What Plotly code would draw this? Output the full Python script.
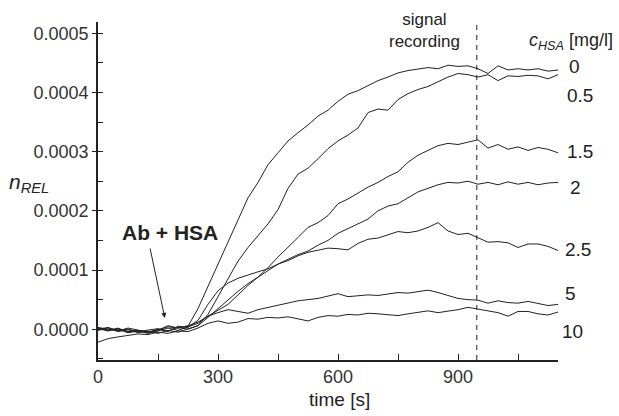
import plotly.graph_objects as go

# time axis (s)
time_s = list(range(0, 1151, 25))

# n_REL values in units of 1e-4
c_0 = [0.02, -0.02, 0.01, -0.04, -0.02, -0.05, -0.01, 0.04, 0.02, 0.05, 0.35, 0.72, 1.08, 1.45, 1.85, 2.22,
       2.48, 2.78, 2.98, 3.18, 3.32, 3.45, 3.60, 3.70, 3.85, 3.97, 4.03, 4.12, 4.20, 4.26, 4.33, 4.37,
       4.40, 4.42, 4.40, 4.46, 4.44, 4.45, 4.40, 4.32, 4.45, 4.38, 4.40, 4.38, 4.40, 4.36, 4.38]
c_05 = [0.0, 0.03, -0.02, 0.0, -0.04, -0.02, 0.01, -0.03, 0.03, 0.0, 0.06, 0.25, 0.55, 0.85, 1.15, 1.38,
        1.58, 1.78, 2.02, 2.38, 2.62, 2.72, 2.88, 3.05, 3.18, 3.28, 3.40, 3.66, 3.72, 3.70, 3.88, 3.98,
        4.05, 4.10, 4.18, 4.26, 4.32, 4.30, 4.26, 4.30, 4.20, 4.28, 4.27, 4.29, 4.28, 4.23, 4.30]
c_15 = [0.01, -0.03, 0.02, -0.05, -0.02, -0.06, -0.03, 0.02, -0.02, 0.04, 0.10, 0.22, 0.32, 0.42, 0.58, 0.74,
        0.88, 1.04, 1.22, 1.38, 1.55, 1.72, 1.80, 1.92, 2.12, 2.20, 2.30, 2.40, 2.48, 2.58, 2.66, 2.82,
        2.94, 3.02, 3.10, 3.14, 3.12, 3.16, 3.20, 3.06, 3.12, 3.04, 3.08, 3.02, 3.07, 3.04, 2.98]
c_2 = [-0.02, 0.02, -0.04, -0.01, -0.06, -0.03, -0.07, -0.02, -0.05, 0.0, 0.06, 0.20, 0.35, 0.50, 0.64, 0.77,
       0.88, 1.00, 1.10, 1.18, 1.26, 1.32, 1.42, 1.50, 1.62, 1.70, 1.78, 1.86, 2.00, 2.08, 2.12, 2.22,
       2.32, 2.38, 2.44, 2.48, 2.47, 2.50, 2.45, 2.48, 2.44, 2.49, 2.45, 2.48, 2.44, 2.47, 2.48]
c_25 = [0.03, 0.0, -0.03, 0.02, -0.02, -0.05, 0.0, -0.04, 0.05, 0.03, 0.15, 0.42, 0.65, 0.78, 0.86, 0.92,
        0.97, 1.02, 1.10, 1.16, 1.24, 1.30, 1.33, 1.37, 1.36, 1.34, 1.45, 1.52, 1.54, 1.60, 1.65, 1.63,
        1.66, 1.72, 1.80, 1.66, 1.60, 1.62, 1.55, 1.47, 1.48, 1.46, 1.38, 1.44, 1.44, 1.40, 1.33]
c_5 = [0.02, -0.02, 0.0, -0.06, -0.03, -0.07, -0.02, 0.06, 0.02, 0.06, 0.12, 0.22, 0.28, 0.33, 0.30, 0.27,
       0.33, 0.37, 0.40, 0.44, 0.48, 0.50, 0.52, 0.56, 0.60, 0.55, 0.56, 0.58, 0.57, 0.60, 0.62, 0.61,
       0.64, 0.66, 0.62, 0.57, 0.52, 0.50, 0.49, 0.44, 0.48, 0.45, 0.44, 0.47, 0.43, 0.40, 0.42]
c_10 = [-0.22, -0.16, -0.13, -0.10, -0.08, -0.09, -0.05, -0.07, -0.03, -0.04, 0.02, 0.10, 0.14, 0.10, 0.12, 0.18,
        0.17, 0.20, 0.19, 0.21, 0.17, 0.14, 0.20, 0.23, 0.22, 0.25, 0.24, 0.27, 0.26, 0.24, 0.23, 0.26,
        0.28, 0.31, 0.28, 0.30, 0.33, 0.37, 0.34, 0.31, 0.28, 0.22, 0.30, 0.30, 0.26, 0.24, 0.29]

series = [("0", c_0), ("0.5", c_05), ("1.5", c_15), ("2", c_2), ("2.5", c_25), ("5", c_5), ("10", c_10)]

# concentration labels at the right end of the curves
label_text = ["0", "0.5", "1.5", "2", "2.5", "5", "10"]
label_px = [1.0196, 1.0152, 1.0152, 1.0217, 1.0109, 1.0109, 1.0043]   # paper x (left edge)
label_py = [0.867, 0.784, 0.618, 0.509, 0.328, 0.198, 0.083]          # paper y (middle)

signal_time = 947

FONT = "Liberation Sans, Arial, sans-serif"
INK = "#222222"

fig = go.Figure()
for name, vals in series:
    fig.add_trace(go.Scatter(
        x=time_s, y=[v * 1e-4 for v in vals], mode="lines", name=name,
        line=dict(color=INK, width=1), showlegend=False, hoverinfo="skip"))

fig.add_shape(type="line", xref="x", yref="paper", x0=signal_time, x1=signal_time,
              y0=0, y1=1.006, line=dict(color=INK, width=1, dash="5px,5px"))

ann = []
for txt, xp, yp in zip(label_text, label_px, label_py):
    ann.append(dict(x=xp, y=yp, xref="paper", yref="paper", text=txt, showarrow=False,
                    xanchor="left", yanchor="middle", font=dict(family=FONT, size=19, color=INK)))

ann.append(dict(x=0.71, y=0.975, xref="paper", yref="paper", text="signal<br>recording",
                showarrow=False, xanchor="center", yanchor="middle", align="center",
                font=dict(family=FONT, size=17, color=INK)))
ann.append(dict(x=1.124, y=0.941, xref="paper", yref="paper",
                text="<i>c</i><sub><i>HSA</i></sub> [mg/l]",
                showarrow=False, xanchor="right", yanchor="middle",
                font=dict(family=FONT, size=18, color=INK)))
ann.append(dict(x=-0.150, y=0.525, xref="paper", yref="paper",
                text="<i>n</i><sub><i>REL</i></sub>",
                showarrow=False, xanchor="center", yanchor="middle",
                font=dict(family=FONT, size=21, color=INK)))
ann.append(dict(x=0.524, y=-0.118, xref="paper", yref="paper", text="time [s]",
                showarrow=False, xanchor="center", yanchor="middle",
                font=dict(family=FONT, size=19, color=INK)))
ann.append(dict(x=180, y=1.64e-4, xref="x", yref="y", text="<b>Ab + HSA</b>",
                showarrow=False, xanchor="center", yanchor="middle",
                font=dict(family=FONT, size=21, color=INK)))
ann.append(dict(x=167, y=0.19e-4, xref="x", yref="y", ax=-15, ay=-71, text="",
                showarrow=True, arrowhead=2, arrowsize=1, arrowwidth=1, arrowcolor=INK))

fig.update_layout(
    width=619, height=416,
    margin=dict(l=98, r=61, t=22, b=56),
    plot_bgcolor="white", paper_bgcolor="white",
    annotations=ann,
    xaxis=dict(range=[0, 1150], tickmode="linear", tick0=0, dtick=300,
               showline=True, linecolor=INK, linewidth=1.5, mirror=False,
               ticks="inside", ticklen=6, tickcolor=INK, tickwidth=1,
               minor=dict(ticks="inside", ticklen=6, dtick=150, tick0=0, tickcolor=INK),
               showgrid=False, zeroline=False,
               tickfont=dict(family=FONT, size=18, color="#333333")),
    yaxis=dict(range=[-0.000052, 0.000519], tickmode="linear", tick0=0, dtick=0.0001,
               tickformat=".4f",
               showline=True, linecolor=INK, linewidth=1.5, mirror=False,
               ticks="outside", ticklen=4, tickcolor=INK, tickwidth=1,
               minor=dict(ticks="inside", ticklen=5, dtick=0.00005, tick0=0, tickcolor=INK),
               showgrid=False, zeroline=False,
               tickfont=dict(family=FONT, size=18, color="#333333")),
)

fig.write_html("out.html", config={"displayModeBar": False},
               post_script="document.body.style.margin='0';document.body.style.overflow='hidden';")
